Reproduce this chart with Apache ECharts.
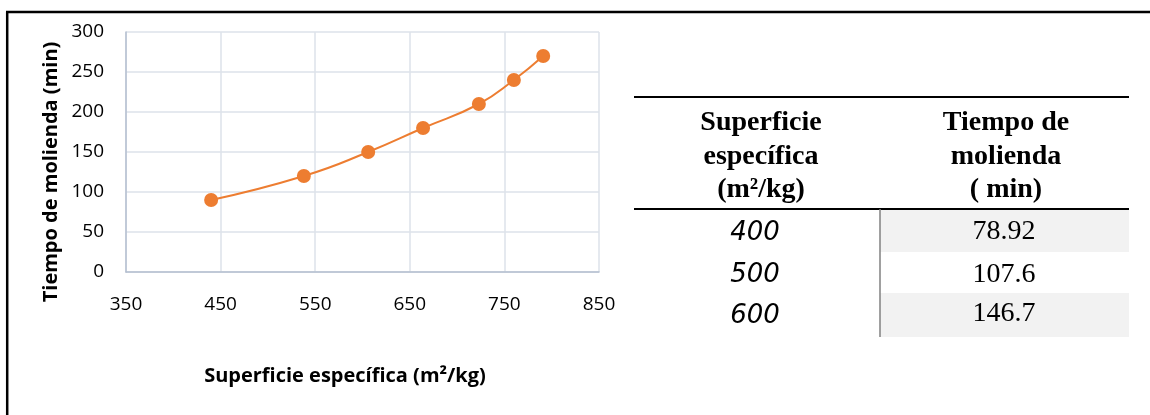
<!DOCTYPE html>
<html>
<head>
<meta charset="utf-8">
<script src="https://cdn.jsdelivr.net/npm/echarts@6/dist/echarts.min.js"></script>
<style>
  html, body { margin: 0; padding: 0; background: #fff; }
  #chart { width: 1150px; height: 415px; }
</style>
</head>
<body>
<div id="chart"></div>
<script>
// Measured grinding time against specific surface
const surface = [440, 538, 606, 664, 723, 760, 791];
const grindTime = [90, 120, 150, 180, 210, 240, 270];

// Axis ticks
const xTicks = [350, 450, 550, 650, 750, 850];
const yTicks = [0, 50, 100, 150, 200, 250, 300];

// Side table
const tableHeadSurface = ['Superficie', 'específica', '(m²/kg)'];
const tableHeadTime = ['Tiempo de', 'molienda', '( min)'];
const tableSurface = ['400', '500', '600'];
const tableTime = ['78.92', '107.6', '146.7'];

const xTitle = 'Superficie específica (m²/kg)';
const yTitle = 'Tiempo de molienda (min)';

const chart = echarts.init(document.getElementById('chart'), null, { renderer: 'canvas' });

function txt(text, x, y, font, align) {
  return {
    type: 'text',
    silent: true,
    style: {
      text: text, x: x, y: y, font: font, fill: '#000',
      align: align || 'center', verticalAlign: 'middle',
      textAlign: align || 'center', textVerticalAlign: 'middle'
    }
  };
}
function hline(x1, x2, y, w, c) {
  return { type: 'line', silent: true, shape: { x1: x1, y1: y, x2: x2, y2: y }, style: { stroke: c || '#000', lineWidth: w } };
}
function vline(x, y1, y2, w, c) {
  return { type: 'line', silent: true, shape: { x1: x, y1: y1, x2: x, y2: y2 }, style: { stroke: c || '#000', lineWidth: w } };
}

// Table layout
const tLeft = 634, tRight = 1129, tDiv = 880;
const headLines = [123, 157, 190];
const rowBands = [[210, 252], [252, 293], [293, 337]];
const col1Y = [233, 275, 316];
const col2Y = [232, 275, 314];

const graphics = [];
// outer frame (top and left edges)
graphics.push(hline(6, 1150, 12, 2.5));
graphics.push(vline(7.2, 12, 415, 2.5));

// shaded cells of second column
rowBands.forEach((b, i) => {
  if (i % 2 === 0) {
    graphics.push({ type: 'rect', silent: true, shape: { x: tDiv, y: b[0], width: tRight - tDiv, height: b[1] - b[0] }, style: { fill: '#f2f2f2' } });
  }
});
graphics.push(hline(tLeft, tRight, 97, 2));
graphics.push(hline(tLeft, tRight, 209, 2));
graphics.push(vline(tDiv, 209, 337, 1.5, '#808080'));

tableHeadSurface.forEach((t, i) => graphics.push(txt(t, 761, headLines[i], 'bold 28px "Liberation Serif"')));
tableHeadTime.forEach((t, i) => graphics.push(txt(t, 1006, headLines[i], 'bold 28px "Liberation Serif"')));
tableSurface.forEach((t, i) => graphics.push(txt(t, 755, col1Y[i], 'italic 26px "DejaVu Sans"')));
tableTime.forEach((t, i) => graphics.push(txt(t, 1004, col2Y[i], '28px "Liberation Serif"')));

const option = {
  backgroundColor: '#fff',
  animation: false,
  grid: { left: 126, top: 32, right: 551, bottom: 143, containLabel: false },
  xAxis: {
    type: 'value',
    min: xTicks[0],
    max: xTicks[xTicks.length - 1],
    interval: xTicks[1] - xTicks[0],
    name: xTitle,
    nameLocation: 'middle',
    nameGap: 94,
    nameTextStyle: { fontFamily: 'Open Sans', fontWeight: 'bold', fontSize: 20, color: '#000', padding: [0, 35, 0, 0] },
    axisLine: { show: true, lineStyle: { color: '#b4bfd0', width: 1.5 } },
    axisTick: { show: false },
    axisLabel: { margin: 23, fontFamily: 'Open Sans', fontSize: 19, color: '#000' },
    splitLine: { show: true, lineStyle: { color: '#dde2ea', width: 1.5 } }
  },
  yAxis: {
    type: 'value',
    min: yTicks[0],
    max: yTicks[yTicks.length - 1],
    interval: yTicks[1] - yTicks[0],
    name: yTitle,
    nameLocation: 'middle',
    nameRotate: 90,
    nameGap: 65,
    nameTextStyle: { fontFamily: 'Open Sans', fontWeight: 'bold', fontSize: 20, color: '#000', padding: [0, 40, 0, 0] },
    axisLine: { show: true, lineStyle: { color: '#b4bfd0', width: 1.5 } },
    axisTick: { show: false },
    axisLabel: { margin: 22, fontFamily: 'Open Sans', fontSize: 19, color: '#000' },
    splitLine: { show: true, lineStyle: { color: '#dde2ea', width: 1.5 } }
  },
  series: [{
    type: 'line',
    data: surface.map((x, i) => [x, grindTime[i]]),
    smooth: true,
    symbol: 'circle',
    symbolSize: 14,
    itemStyle: { color: '#ed7d31' },
    lineStyle: { color: '#ed7d31', width: 2 }
  }],
  graphic: graphics
};

chart.setOption(option);
</script>
</body>
</html>
